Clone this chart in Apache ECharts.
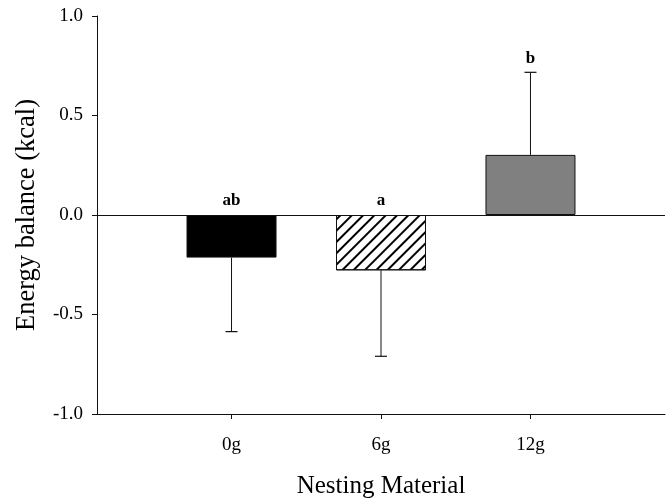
<!DOCTYPE html>
<html>
<head>
<meta charset="utf-8">
<script src="https://cdn.jsdelivr.net/npm/echarts@6/dist/echarts.min.js"></script>
<style>
html,body{margin:0;padding:0;background:#fff;}
#chart{width:667px;height:498px;}
</style>
</head>
<body>
<div id="chart"></div>
<script>
// Data
var categories = ['0g', '6g', '12g'];
var positions = [1, 2, 3];
var means = [-0.214, -0.278, 0.302];
var errEnds = [-0.586, -0.71, 0.717];
var letters = ['ab', 'a', 'b'];
var yTicks = [-1.0, -0.5, 0.0, 0.5, 1.0];

var FONT = '"Liberation Serif", "Times New Roman", serif';
var INK = '#111';

var barItems = positions.map(function (p, i) {
  var style;
  if (i === 0) {
    style = { color: '#000', borderColor: INK, borderWidth: 1 };
  } else if (i === 1) {
    style = {
      color: '#fff', borderColor: INK, borderWidth: 1,
      decal: { symbol: 'rect', symbolSize: 1, dashArrayX: [1, 0], dashArrayY: [1.2, 5.8], rotation: -Math.PI / 4, color: '#000' }
    };
  } else {
    style = { color: '#808080', borderColor: INK, borderWidth: 1 };
  }
  return { value: [p, means[i]], itemStyle: style };
});

var errData = positions.map(function (p, i) { return [p, means[i], errEnds[i]]; });
var letterData = positions.map(function (p, i) {
  return [p, means[i] < 0 ? 0 : errEnds[i], letters[i]];
});

var chart = echarts.init(document.getElementById('chart'), null, { renderer: 'canvas' });
chart.setOption({
  animation: false,
  backgroundColor: '#fff',
  grid: { left: 97, right: 2, top: 16, bottom: 84, containLabel: false, outerBoundsMode: 'none' },
  xAxis: {
    type: 'value', min: 0.1, max: 3.9,
    name: 'Nesting Material', nameLocation: 'middle', nameGap: 60,
    nameTextStyle: { fontFamily: FONT, fontSize: 25, color: '#000' },
    axisLine: { show: true, onZero: false, lineStyle: { color: INK, width: 1 } },
    axisTick: { show: true, inside: false, length: 5, customValues: positions, lineStyle: { color: INK } },
    axisLabel: {
      customValues: positions, margin: 22, fontFamily: FONT, fontSize: 19, color: '#000',
      formatter: function (v) { var i = positions.indexOf(Math.round(v)); return i >= 0 ? categories[i] : ''; }
    },
    splitLine: { show: false }
  },
  yAxis: {
    type: 'value', min: -1, max: 1, interval: 0.5,
    name: 'Energy balance (kcal)', nameLocation: 'middle', nameGap: 56,
    nameTextStyle: { fontFamily: FONT, fontSize: 26.5, color: '#000' },
    axisLine: { show: true, onZero: false, lineStyle: { color: INK, width: 1 } },
    axisTick: { show: true, inside: false, length: 5, lineStyle: { color: INK } },
    axisLabel: {
      margin: 14, fontFamily: FONT, fontSize: 19, color: '#000',
      formatter: function (v) { return Number(v).toFixed(1); }
    },
    splitLine: { show: false }
  },
  series: [
    {
      type: 'bar', data: barItems, barWidth: 90, z: 2,
      markLine: {
        silent: true, symbol: ['none', 'none'], label: { show: false },
        lineStyle: { color: INK, width: 1, type: 'solid' },
        data: [{ yAxis: 0 }], z: 3
      }
    },
    {
      type: 'custom', data: errData, z: 1,
      renderItem: function (params, api) {
        var x = api.value(0);
        var a = api.coord([x, api.value(1)]);
        var b = api.coord([x, api.value(2)]);
        return {
          type: 'group', children: [
            { type: 'line', shape: { x1: a[0], y1: a[1], x2: b[0], y2: b[1] }, style: { stroke: INK, lineWidth: 1 } },
            { type: 'line', shape: { x1: b[0] - 6, y1: b[1], x2: b[0] + 6, y2: b[1] }, style: { stroke: INK, lineWidth: 1.2 } }
          ]
        };
      }
    },
    {
      type: 'custom', data: letterData, z: 4,
      renderItem: function (params, api) {
        var p = api.coord([api.value(0), api.value(1)]);
        return {
          type: 'text',
          style: {
            x: p[0], y: p[1] - 14, text: letters[params.dataIndex],
            font: 'bold 17px ' + FONT, fill: '#000', align: 'center', verticalAlign: 'middle'
          }
        };
      }
    }
  ]
});
</script>
</body>
</html>
